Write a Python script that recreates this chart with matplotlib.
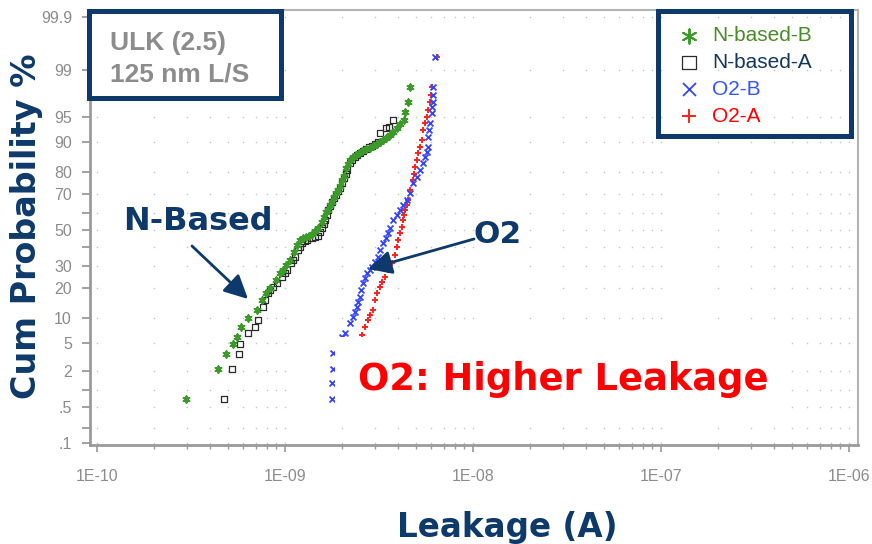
import numpy as np
import matplotlib
matplotlib.use("Agg")
import matplotlib.pyplot as plt
from matplotlib.patches import Rectangle
from matplotlib.ticker import FixedLocator, FuncFormatter, NullLocator, NullFormatter
from statistics import NormalDist

# leakage in nA, cumulative probability in %
nb_b_leak = [0.297, 0.440, 0.485, 0.529, 0.556, 0.583, 0.636, 0.710, 0.754, 0.79, 0.832, 0.896, 0.940, 0.98,
             1.012, 1.064, 1.116, 1.158, 1.202, 1.25, 1.294, 1.34, 1.393, 1.45, 1.499, 1.573, 1.61, 1.652, 1.69,
             1.735, 1.78, 1.822, 1.87, 1.914, 1.96, 2.010, 2.06, 2.111, 2.16, 2.218, 2.30, 2.387, 2.48, 2.570,
             2.70, 2.831, 2.94, 3.083, 3.20, 3.319, 3.44, 3.622, 3.75, 3.945, 4.09, 4.295, 4.345, 4.508, 4.624]
nb_b_cum = [0.71, 2.18, 3.6, 4.9, 6.0, 8.0, 10.1, 12.3, 15.5, 18.0, 20.0, 23.4, 26.6, 28.1,
            30.6, 33.2, 37.5, 41.4, 44.2, 45.4, 45.9, 46.5, 47.7, 49.5, 51.2, 54.6, 57.5, 60.3, 61.4,
            64.2, 65.8, 68.4, 70.4, 71.9, 73.9, 76.6, 78.5, 81.6, 83.0, 84.5, 85.5, 86.2, 86.8, 87.4,
            88.0, 88.3, 88.9, 89.4, 89.9, 90.4, 90.9, 91.6, 92.3, 93.1, 93.8, 94.5, 95.7, 96.8, 98.1]

nb_a_leak = [0.474, 0.522, 0.569, 0.576, 0.636, 0.692, 0.718, 0.764, 0.78, 0.812, 0.83, 0.863, 0.906, 0.964,
             1.00, 1.025, 1.076, 1.10, 1.130, 1.172, 1.20, 1.231, 1.27, 1.309, 1.393, 1.45, 1.499, 1.54, 1.573,
             1.61, 1.632, 1.67, 1.693, 1.74, 1.778, 1.82, 1.867, 1.91, 1.963, 2.01, 2.061, 2.11, 2.138, 2.218,
             2.27, 2.356, 2.42, 2.506, 2.60, 2.698, 2.80, 2.904, 3.01, 3.126, 3.199, 3.444, 3.573, 3.750]
nb_a_cum = [0.71, 2.18, 3.6, 4.9, 6.75, 8.0, 9.6, 13.2, 15.5, 18.0, 19.2, 20.4, 22.1, 24.8,
            26.6, 28.1, 31.6, 33.2, 34.8, 38.6, 40.3, 42.5, 43.6, 44.2, 45.4, 45.9, 46.5, 48.8, 51.2,
            53.4, 55.8, 58.5, 61.4, 63.6, 65.8, 67.9, 69.4, 71.4, 72.9, 75.2, 77.5, 79.1, 80.8, 83.5,
            84.5, 85.5, 86.2, 86.8, 87.4, 88.0, 88.6, 88.9, 89.4, 89.9, 92.0, 93.1, 93.3, 94.5]

o2_b_leak = [1.778, 1.778, 1.80, 1.80, 1.91, 2.01, 2.085, 2.218, 2.301, 2.36, 2.415, 2.45, 2.506, 2.54,
             2.600, 2.67, 2.729, 2.83, 2.904, 3.01, 3.126, 3.20, 3.319, 3.44, 3.532, 3.62, 3.750, 3.95,
             4.093, 4.25, 4.457, 4.62, 4.797, 5.04, 5.224, 5.42, 5.559, 5.69, 5.768, 5.768, 5.83, 5.902,
             6.053, 6.05, 6.124, 6.12, 6.124, 6.281]
o2_b_cum = [0.71, 1.32, 2.18, 3.71, 4.9, 6.0, 6.75, 8.85, 10.3, 11.7, 13.2, 14.8, 16.5, 19.2,
            22.1, 24.3, 26.6, 28.1, 29.6, 32.2, 34.8, 38.6, 42.5, 45.4, 48.3, 51.2, 55.8, 58.6,
            61.4, 64.2, 66.8, 70.4, 75.2, 78.0, 80.8, 83.5, 85.5, 87.1, 88.6, 91.1, 92.6, 94.0,
            95.5, 96.3, 96.8, 97.5, 98.1, 99.4]

o2_a_leak = [2.22, 2.26, 2.36, 2.42, 2.48, 2.570, 2.667, 2.761, 2.83, 2.938, 3.013, 3.08, 3.199, 3.28,
             3.404, 3.53, 3.707, 3.84, 3.945, 4.00, 4.093, 4.19, 4.246, 4.30, 4.345, 4.46, 4.508, 4.62,
             4.797, 4.85, 4.909, 5.04, 5.093, 5.22, 5.358, 5.420, 5.56, 5.689, 5.77, 5.902, 5.98, 6.053, 6.442]
o2_a_cum = [0.71, 1.32, 2.18, 3.6, 4.9, 6.4, 8.0, 9.6, 10.9, 12.3, 15.5, 18.0, 20.4, 22.5,
            24.8, 28.1, 31.6, 35.9, 40.3, 44.2, 48.3, 51.7, 55.8, 58.6, 61.4, 64.2, 66.8, 71.9,
            76.6, 79.1, 82.0, 84.5, 86.8, 88.6, 90.4, 92.6, 94.0, 94.9, 95.9, 96.8, 97.5, 98.1, 99.4]

x_ticks = [1e-10, 1e-9, 1e-8, 1e-7, 1e-6]
x_tick_labels = ["1E-10", "1E-09", "1E-08", "1E-07", "1E-06"]
y_ticks = [0.1, 0.2, 0.5, 1, 2, 5, 10, 20, 30, 40, 50, 60, 70, 80, 90, 95, 99, 99.9]
y_tick_labels = [".1", "", ".5", "", "2", "5", "10", "20", "30", "", "50", "", "70", "80", "90", "95", "99", "99.9"]

NAVY = "#0e3a6b"
GRAY = "#8c8c8c"

plt.rcParams["font.family"] = ["Liberation Sans", "DejaVu Sans"]

_nd = NormalDist()
_ppf = np.vectorize(lambda v: _nd.inv_cdf(v / 100.0), otypes=[float])
_cdf = np.vectorize(lambda v: _nd.cdf(v) * 100.0, otypes=[float])


def prob_fwd(p):
    p = np.clip(np.asarray(p, dtype=float), 1e-6, 100 - 1e-6)
    return _ppf(p)


def prob_inv(z):
    z = np.clip(np.asarray(z, dtype=float), -10, 10)
    return _cdf(z)


fig = plt.figure(figsize=(8.72, 5.44), dpi=100)
ax = fig.add_axes([90 / 872, 1 - 445 / 544, 768 / 872, 435 / 544])
ax.set_xscale("log")
ax.set_yscale("function", functions=(prob_fwd, prob_inv))
ax.set_xlim(9.18e-11, 1.117e-6)
ax.set_ylim(0.09, 99.93)

# dotted grid: dots where x ticks meet y ticks
xg = [m * 10.0 ** d for d in range(-10, -6) for m in range(1, 10)] + [1e-6]
gx, gy = np.meshgrid(xg, y_ticks)
ax.scatter(gx.ravel(), gy.ravel(), s=1.3, color="#c4c4c4", linewidths=0, zorder=1)

nA = 1e-9
h_a = ax.scatter(np.array(nb_a_leak) * nA, nb_a_cum, marker="s", s=20, facecolors="none",
                 edgecolors="#2b2b2b", linewidths=0.9, zorder=3, label="N-based-A")
h_b = ax.scatter(np.array(nb_b_leak) * nA, nb_b_cum, marker=(6, 2, 0), s=22, color="#3c9a2a",
                 linewidths=1.4, zorder=3, label="N-based-B")
h_r = ax.scatter(np.array(o2_a_leak) * nA, o2_a_cum, marker="+", s=24, color="#ff2020",
                 linewidths=1.4, zorder=3, label="O2-A")
h_bl = ax.scatter(np.array(o2_b_leak) * nA, o2_b_cum, marker="x", s=18, color="#3344ff",
                  linewidths=1.3, zorder=3, label="O2-B")

ax.yaxis.set_major_locator(FixedLocator(y_ticks))
ax.set_yticklabels(y_tick_labels)
ax.yaxis.set_minor_locator(NullLocator())
ax.xaxis.set_major_locator(FixedLocator(x_ticks))
ax.set_xticklabels(x_tick_labels)
ax.xaxis.set_minor_locator(FixedLocator([v for v in xg if v not in x_ticks]))
ax.xaxis.set_minor_formatter(NullFormatter())

ax.tick_params(axis="y", which="major", length=6, width=1.3, color="#9a9a9a", pad=7,
               labelsize=11.5, labelcolor=GRAY)
ax.tick_params(axis="x", which="major", length=5, width=1.2, color="#9a9a9a", pad=12,
               labelsize=11.5, labelcolor=GRAY)
ax.tick_params(axis="x", which="minor", length=3, width=1.0, color="#9a9a9a")
for side in ["left", "bottom"]:
    ax.spines[side].set_color("#9a9a9a")
    ax.spines[side].set_linewidth(2)
for side in ["top", "right"]:
    ax.spines[side].set_color("#b4b4b4")
    ax.spines[side].set_linewidth(1.5)

# white panel behind the red message
ax.add_patch(Rectangle((335 / 872, 1 - 412 / 544), 450 / 872, 75 / 544, transform=fig.transFigure,
                       facecolor="white", edgecolor="none", zorder=4))
ax.text(563 / 872, 1 - 390 / 544, "O2: Higher Leakage", transform=fig.transFigure, ha="center",
        va="baseline", fontsize=26.5, fontweight="bold", color="#ff0000", family="DejaVu Sans", zorder=5)

# annotations
fig.text(198 / 872, 1 - 230 / 544, "N-Based", ha="center", va="baseline", fontsize=23,
         fontweight="bold", color=NAVY, family="DejaVu Sans")
fig.text(498 / 872, 1 - 243 / 544, "O2", ha="center", va="baseline", fontsize=22.5,
         fontweight="bold", color=NAVY, family="DejaVu Sans")
arrow = dict(arrowstyle="-|>,head_length=0.8,head_width=0.4", color=NAVY, lw=2, mutation_scale=18,
             shrinkA=0, shrinkB=0)
ax.annotate("", xy=(248 / 872, 1 - 299 / 544), xytext=(192 / 872, 1 - 246 / 544),
            xycoords="figure fraction", textcoords="figure fraction", arrowprops=arrow, zorder=6)
ax.annotate("", xy=(368 / 872, 1 - 269 / 544), xytext=(474 / 872, 1 - 239 / 544),
            xycoords="figure fraction", textcoords="figure fraction", arrowprops=arrow, zorder=6)

# axis titles
fig.text(27 / 872, 1 - 226 / 544, "Cum Probability %", rotation=90, ha="center", va="center",
         fontsize=24, fontweight="bold", color=NAVY, family="DejaVu Sans")
fig.text(507 / 872, 1 - 537 / 544, "Leakage (A)", ha="center", va="baseline", fontsize=23.5,
         fontweight="bold", color=NAVY, family="DejaVu Sans")

# sample box
fig.add_artist(Rectangle((88.5 / 872, 1 - 97.5 / 544), 192 / 872, 87 / 544, transform=fig.transFigure,
                         facecolor="white", edgecolor=NAVY, linewidth=3.6, zorder=1))
fig.text(110 / 872, 1 - 50 / 544, "ULK (2.5)", ha="left", va="baseline", fontsize=19,
         fontweight="bold", color=GRAY)
fig.text(110 / 872, 1 - 82 / 544, "125 nm L/S", ha="left", va="baseline", fontsize=19,
         fontweight="bold", color=GRAY)

# legend
fig.add_artist(Rectangle((657.5 / 872, 1 - 135.5 / 544), 193 / 872, 125 / 544, transform=fig.transFigure,
                         facecolor="none", edgecolor=NAVY, linewidth=3.6, zorder=1))
fig.legend([h_b, h_a, h_bl, h_r], ["N-based-B", "N-based-A", "O2-B", "O2-A"], loc="upper left",
           bbox_to_anchor=(678.6 / 872, 1 - 26 / 544), frameon=False, borderpad=0, borderaxespad=0,
           handlelength=1.0, handletextpad=0.6, labelspacing=0.38, markerscale=2.2,
           prop={"family": "Liberation Sans", "size": 15},
           labelcolor=["#4a8a28", "#15365f", "#3355ff", "#ff0000"])

fig.savefig("out.png", dpi=100)
